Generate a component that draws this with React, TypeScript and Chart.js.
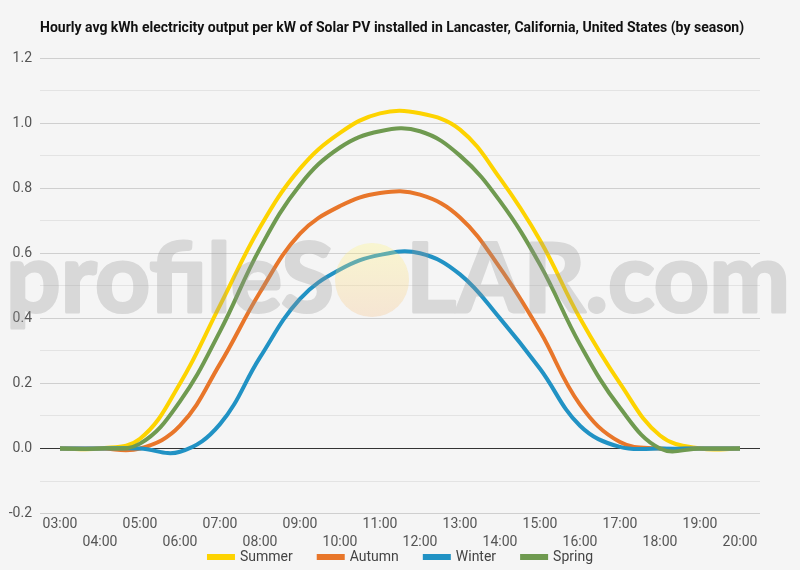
import React, { useEffect, useRef } from "react";
import { Chart, registerables } from "chart.js";

Chart.register(...registerables);

// ---- data ----
const hours = [
  "03:00", "04:00", "05:00", "06:00", "07:00", "08:00", "09:00", "10:00", "11:00",
  "12:00", "13:00", "14:00", "15:00", "16:00", "17:00", "18:00", "19:00", "20:00",
];
const summer = [0, 0, 0.03, 0.2, 0.44, 0.68, 0.86, 0.97, 1.03, 1.03, 0.98, 0.83, 0.64, 0.4, 0.2, 0.04, 0, 0];
const autumn = [0, 0, 0, 0.07, 0.26, 0.48, 0.66, 0.745, 0.785, 0.78, 0.71, 0.555, 0.36, 0.135, 0.02, 0, 0, 0];
const winter = [0, 0, 0, -0.01, 0.075, 0.28, 0.46, 0.55, 0.595, 0.6, 0.535, 0.4, 0.245, 0.07, 0.005, 0, 0, 0];
const spring = [0, 0, 0.015, 0.145, 0.36, 0.615, 0.81, 0.925, 0.975, 0.975, 0.9, 0.76, 0.565, 0.32, 0.125, 0, 0, 0];

const TITLE = "Hourly avg kWh electricity output per kW of Solar PV installed in Lancaster, California, United States (by season)";
const FONT = "Roboto";

// title at the chart-area's left edge + legend row under the axis
const textPlugin = {
  id: "titleAndLegend",
  afterDraw(chart: Chart) {
    const { ctx, chartArea } = chart;
    ctx.save();
    ctx.font = `bold 14px ${FONT}`;
    ctx.fillStyle = "#111";
    ctx.textBaseline = "middle";
    ctx.textAlign = "left";
    ctx.fillText(TITLE, chartArea.left, 28);

    // legend: short thick line + label, centred under the chart
    ctx.font = `14px ${FONT}`;
    const sets = chart.data.datasets as any[];
    const boxW = 28, gapText = 5, gapItem = 24;
    const widths = sets.map((d) => boxW + gapText + ctx.measureText(d.label).width);
    const total = widths.reduce((a, b) => a + b, 0) + gapItem * (sets.length - 1);
    let x = chart.width / 2 - total / 2;
    const y = 557;
    sets.forEach((d, i) => {
      ctx.fillStyle = d.borderColor;
      ctx.fillRect(x, y - 3, boxW, 6);
      ctx.fillStyle = "#444";
      ctx.fillText(d.label, x + boxW + gapText, y);
      x += widths[i] + gapItem;
    });
    ctx.restore();
  },
};

// the profileSOLAR.com watermark, laid over the lines
const watermarkPlugin = {
  id: "watermark",
  afterDatasetsDraw(chart: Chart) {
    const ctx = chart.ctx;
    const off = document.createElement("canvas");
    off.width = chart.width;
    off.height = chart.height;
    const o = off.getContext("2d");
    if (!o) return;
    o.font = "bold 96px Lato";
    o.fillStyle = "#969696";
    o.strokeStyle = "#969696";
    o.lineWidth = 3;
    o.lineJoin = "round";
    const drawFit = (text: string, x0: number, x1: number) => {
      const w = o.measureText(text).width;
      o.save();
      o.translate(x0, 312);
      o.scale((x1 - x0) / w, 1);
      o.fillText(text, 0, 0);
      o.strokeText(text, 0, 0);
      o.restore();
    };
    drawFit("profileS", 6, 334);
    drawFit("LAR.com", 406, 790);
    ctx.save();
    ctx.globalAlpha = 0.3;
    ctx.drawImage(off, 0, 0, chart.width, chart.height);
    const g = ctx.createLinearGradient(0, 243, 0, 317);
    g.addColorStop(0, "rgba(255,245,120,1)");
    g.addColorStop(1, "rgba(245,190,130,1)");
    ctx.fillStyle = g;
    ctx.beginPath();
    ctx.arc(372, 280, 37, 0, Math.PI * 2);
    ctx.fill();
    ctx.restore();
  },
};

const isMajor = (v: number) => Math.round(v * 10) % 2 === 0;

const App: React.FC = () => {
  const canvasRef = useRef<HTMLCanvasElement | null>(null);

  useEffect(() => {
    if (!canvasRef.current) return;
    const mk = (label: string, data: number[], color: string, order: number) => ({
      label, data, borderColor: color, backgroundColor: color, borderWidth: 4,
      pointRadius: 0, tension: 0.4, order, fill: false,
    });
    const chart = new Chart(canvasRef.current, {
      type: "line",
      data: {
        labels: hours,
        datasets: [
          mk("Summer", summer, "#fdd300", 3),
          mk("Autumn", autumn, "#e8762a", 2),
          mk("Winter", winter, "#2192c4", 1),
          mk("Spring", spring, "#6f9a50", 0),
        ],
      },
      options: {
        animation: false,
        responsive: true,
        maintainAspectRatio: false,
        layout: { padding: { top: 58, right: 40, left: 0, bottom: 16 } },
        plugins: {
          title: { display: false },
          tooltip: { enabled: false },
          legend: { display: false },
        },
        scales: {
          x: {
            offset: true,
            grid: { display: false, drawTicks: false, tickLength: 0 },
            border: { display: false },
            ticks: {
              autoSkip: false,
              maxRotation: 0,
              padding: 2,
              color: "#555",
              font: { family: FONT, size: 14, lineHeight: 1.3 },
              callback: (_v: any, i: number) => (i % 2 === 0 ? hours[i] : ["", hours[i]]),
            },
          },
          y: {
            min: -0.2,
            max: 1.2,
            afterFit: (s: any) => { s.width = 40; },
            border: { display: false },
            grid: {
              drawTicks: false,
              color: (c: any) => {
                const v = c.tick?.value ?? 0;
                if (Math.abs(v) < 1e-6) return "#333";
                return isMajor(v) ? "#cfcfcf" : "#e3e3e3";
              },
            },
            ticks: {
              stepSize: 0.1,
              padding: 8,
              color: "#555",
              font: { family: FONT, size: 14 },
              callback: (v: any) => {
                const n = Number(v);
                if (!isMajor(n)) return "";
                return Math.abs(n) < 1e-6 ? "0.0" : n.toFixed(1);
              },
            },
          },
        },
      },
      plugins: [watermarkPlugin, textPlugin],
    } as any);
    return () => chart.destroy();
  }, []);

  return (
    <div style={{ position: "fixed", top: 0, left: 0, width: 800, height: 570, background: "#f5f5f5" }}>
      <canvas ref={canvasRef} />
    </div>
  );
};

export default App;
